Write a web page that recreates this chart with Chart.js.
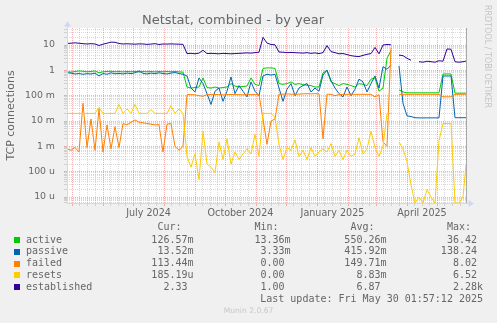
<!DOCTYPE html>
<html>
<head>
<meta charset="utf-8">
<script src="https://cdn.jsdelivr.net/npm/chart.js@4/dist/chart.umd.min.js"></script>
<style>
  html, body { margin: 0; padding: 0; background: #F0F0F0; }
  #wrap { width: 497px; height: 323px; }
</style>
</head>
<body>
<div id="wrap"><canvas id="c" width="497" height="323"></canvas></div>
<script>
// Sample days, counted from 2024-04-26 (left edge) to 2025-05-30 (right edge)
const days = [0,4,8,12,16,20,24,28,32,36,40,44,48,52,56,60,64,68,72,76,
  80,84,88,92,96,100,104,108,112,116,120,124,128,132,136,140,144,148,152,156,
  160,164,168,172,176,180,184,188,192,196,200,204,208,212,216,220,224,228,232,236,
  240,244,248,252,256,260,264,268,272,276,280,284,288,292,296,300,304,308,312,316,
  320,324,328,332,336,340,344,348,352,356,360,364,368,372,376,380,384,388,392,396,399];

const activeVals = [
  0.88,0.85,0.9,0.95,0.92,0.88,0.9,0.95,0.8,0.88,
  0.9,0.92,0.88,0.9,0.87,0.9,0.88,0.9,0.86,0.9,
  0.88,0.9,0.87,0.9,0.88,0.9,0.88,0.9,0.87,0.85,
  0.22,0.2,0.21,0.22,0.5,0.21,0.2,0.22,0.2,0.21,
  0.22,0.3,0.24,0.22,0.23,0.24,0.5,0.28,0.25,1.2,
  1.25,1.25,1.2,0.3,0.28,0.3,0.35,0.28,0.3,0.27,
  0.26,0.25,0.22,0.22,0.8,1.0,0.35,0.3,0.25,0.3,
  0.28,0.25,0.22,0.3,0.28,0.25,0.45,0.5,0.15,0.2,
  3,6,null,0.17,0.14,0.13,0.13,0.13,0.13,0.13,
  0.13,0.13,0.13,0.13,0.72,0.72,0.72,0.126,0.126,0.126,
  0.1266];

const passiveVals = [
  0.8,0.78,0.72,0.75,0.7,0.74,0.72,0.78,0.6,0.75,
  0.7,0.8,0.73,0.76,0.72,0.78,0.74,0.8,0.95,0.76,
  0.72,0.78,0.74,0.8,0.75,0.72,0.78,0.82,0.75,0.7,
  0.6,0.2,0.14,0.5,0.3,0.12,0.045,0.15,0.2,0.06,
  0.15,0.55,0.12,0.25,0.15,0.09,0.35,0.15,0.1,0.6,
  0.7,0.65,0.7,0.2,0.06,0.18,0.3,0.1,0.2,0.25,
  0.3,0.14,0.2,0.15,0.66,1.0,0.4,0.2,0.12,0.09,
  0.22,0.1,0.18,0.45,0.35,0.14,0.3,0.6,0.2,1.4,
  1.1,1.6,null,1.5,0.05,0.016,0.015,0.0135,0.0133,0.0133,
  0.0133,0.0133,0.0133,0.0133,0.6,0.6,0.6,0.0135,0.0135,0.0135,
  0.01352];

const failedVals = [
  0.0008,0.0007,0.0009,0.0006,0.05,0.0009,0.012,0.0007,0.03,0.0006,
  0.007,0.0008,0.006,0.0009,0.008,0.007,0.009,0.011,0.009,0.0085,
  0.008,0.0075,0.007,0.0072,0.0006,0.0075,0.008,0.001,0.0007,0.001,
  0.11,0.11,0.108,0.1,0.095,0.11,0.11,0.112,0.11,0.108,
  0.11,0.112,0.11,0.11,0.108,0.11,0.11,0.11,0.11,0.012,
  0.0012,0.01,0.012,0.115,0.115,0.118,0.115,0.113,0.115,0.118,
  0.12,0.118,0.12,0.12,0.002,0.115,0.113,0.1,0.11,0.113,
  0.113,0.115,0.113,0.113,0.113,0.113,0.113,0.09,0.11,0.0015,
  0.001,8,null,0.113,0.113,0.113,0.113,0.113,0.113,0.113,
  0.113,0.113,0.113,0.113,0.09,0.09,0.09,0.1134,0.1134,0.1134,
  0.1134];

const resetsVals = [
  0.02,0.02,0.02,0.02,0.02,0.02,0.02,0.02,0.035,0.02,
  0.02,0.02,0.02,0.045,0.02,0.03,0.02,0.045,0.02,0.02,
  0.02,0.028,0.02,0.02,0.02,0.02,0.04,0.02,0.03,0.02,
  0.0004,0.00015,0.0005,0.00005,0.004,0.0002,0.00015,0.00009,0.0015,0.0003,
  0.002,0.0002,0.0006,0.0003,0.0005,0.0008,0.0005,0.003,0.0004,0.02,
  0.02,0.02,0.014,0.0012,0.0003,0.0009,0.0007,0.0018,0.0004,0.0007,
  0.0003,0.0009,0.0004,0.0006,0.0008,0.0006,0.0013,0.0004,0.0007,0.0003,
  0.0007,0.0004,0.0005,0.0022,0.0005,0.0008,0.004,0.0009,0.0004,0.001,
  0.02,0.02,null,0.0015,0.0008,0.00025,0.00003,0,0.00001,0,
  0.00002,0.00001,0,0.0017,0.008,0.008,0.008,0,0,0.00001,
  0.000185];

const establishedVals = [
  11.5,11.8,12.2,11.8,11.3,11.0,11.3,11.0,9.6,10.8,
  11.8,13.0,12.8,11.5,11.0,11.2,11.0,10.8,11.1,11.0,
  10.6,10.9,11.3,10.5,11.0,10.9,11.1,10.9,10.8,10.6,
  4.6,4.7,4.5,4.8,6.2,4.6,4.7,4.6,4.5,4.7,
  4.6,4.5,4.6,4.7,4.8,4.9,4.8,5.0,5.2,20,
  12,10.5,10.2,5.3,5.2,5.0,5.1,5.0,4.9,4.8,
  5.0,4.7,4.9,4.6,5.0,9.5,5.5,5.0,4.5,4.6,
  4.2,3.8,3.6,3.5,3.9,4.3,4.6,8.0,4.5,10.0,
  10.5,10.2,null,4.0,3.8,3.0,2.5,null,2.2,2.1,
  2.3,2.2,2.1,2.4,2.3,7.0,6.8,2.2,2.1,2.2,
  2.33];

const seriesNames  = ['active', 'passive', 'failed', 'resets', 'established'];
const seriesValues = [activeVals, passiveVals, failedVals, resetsVals, establishedVals];
const seriesColors = ['#00CC00', '#0066B3', '#FF8000', '#FFCC00', '#330099'];

// Summary columns
const colHeads = ['Cur:', 'Min:', 'Avg:', 'Max:'];
const curVals  = ['126.57m', '13.52m', '113.44m', '185.19u', '2.33 '];
const minVals  = ['13.36m', '3.33m', '0.00 ', '0.00 ', '1.00 '];
const avgVals  = ['550.26m', '415.92m', '149.71m', '8.83m', '6.87 '];
const maxVals  = ['36.42 ', '138.24 ', '8.02 ', '6.52 ', '2.28k'];
const lastUpdate = 'Last update: Fri May 30 01:57:12 2025';

// Axis labels
const yTickLabels = ['10', '1', '100 m', '10 m', '1 m', '100 u', '10 u'];
const yTickExps   = [1, 0, -1, -2, -3, -4, -5];
const xLabelMonths = [[2024, 6], [2024, 9], [2025, 0], [2025, 3]];
const xLabelTexts  = ['July 2024', 'October 2024', 'January 2025', 'April 2025'];

const FONT = '#666666';
const MGRID = 'rgba(235, 100, 100, 0.5)';
const GRID = 'rgba(140, 140, 140, 0.32)';
const AXIS = '#CFD6F8';
const Y_MIN = 5.8e-6, Y_MAX = 47;
const X_MAX = 399;

const startUTC = Date.UTC(2024, 3, 26);
function dayOf(y, m) { return (Date.UTC(y, m, 1) - startUTC) / 86400000; }

// grid positions along time: month starts (major) and quarter-month marks (minor)
function buildXTicks() {
  const out = [];
  for (let y = 2024, m = 3; y < 2025 || (y === 2025 && m <= 4); ) {
    const s = dayOf(y, m), len = dayOf(y, m + 1) - s;
    const li = xLabelMonths.findIndex(p => p[0] === y && p[1] === m);
    if (s >= 0 && s <= X_MAX) out.push({ value: s, major: true });
    for (let q = 1; q <= 3; q++) {
      const v = s + len * q / 4;
      if (v >= 0 && v <= X_MAX) out.push({ value: v, major: false, lbl: (q === 2 && li >= 0) ? xLabelTexts[li] : '' });
    }
    m++; if (m > 11) { m = 0; y++; }
  }
  return out;
}

function buildYTicks() {
  const out = [];
  for (let e = -6; e <= 1; e++) {
    for (let k = 1; k <= 9; k++) {
      const v = k * Math.pow(10, e);
      if (v >= Y_MIN && v <= Y_MAX) {
        const li = yTickExps.indexOf(e);
        out.push({ value: v, major: k === 1, lbl: (k === 1 && li >= 0) ? yTickLabels[li] : '' });
      }
    }
  }
  return out;
}

const datasets = seriesNames.map((name, i) => ({
  label: name,
  data: days.map((d, j) => {
    const v = seriesValues[i][j];
    return { x: d, y: v === null ? null : (v === 0 ? Y_MIN : v) };
  }),
  borderColor: seriesColors[i],
  backgroundColor: seriesColors[i],
  borderWidth: 1,
  pointRadius: 0,
  tension: 0,
  fill: false,
  spanGaps: false,
  order: seriesNames.length - i
}));

const frame = {
  id: 'frame',
  beforeDraw(chart) {
    const { ctx, chartArea: a } = chart;
    ctx.save();
    ctx.fillStyle = '#F0F0F0';
    ctx.fillRect(0, 0, chart.width, chart.height);
    ctx.fillStyle = '#FFFFFF';
    ctx.fillRect(a.left, a.top, a.right - a.left, a.bottom - a.top);
    ctx.restore();
  },
  afterDatasetsDraw(chart) {
    const { ctx, chartArea: a } = chart;
    ctx.save();
    // right edge line
    ctx.strokeStyle = '#A8A8A8';
    ctx.lineWidth = 1;
    ctx.beginPath();
    ctx.moveTo(a.right + 0.5, a.top);
    ctx.lineTo(a.right + 0.5, a.bottom);
    ctx.stroke();
    // axes with arrows
    ctx.strokeStyle = AXIS;
    ctx.fillStyle = AXIS;
    ctx.beginPath();
    ctx.moveTo(a.left + 0.5, a.bottom + 0.5);
    ctx.lineTo(a.left + 0.5, a.top - 3);
    ctx.moveTo(a.left, a.bottom + 0.5);
    ctx.lineTo(a.right + 3, a.bottom + 0.5);
    ctx.stroke();
    ctx.beginPath();
    ctx.moveTo(a.left + 0.5, a.top - 7);
    ctx.lineTo(a.left - 3, a.top - 1.5);
    ctx.lineTo(a.left + 4, a.top - 1.5);
    ctx.closePath();
    ctx.fill();
    ctx.beginPath();
    ctx.moveTo(a.right + 8, a.bottom + 0.5);
    ctx.lineTo(a.right + 2.5, a.bottom - 3);
    ctx.lineTo(a.right + 2.5, a.bottom + 4);
    ctx.closePath();
    ctx.fill();
    ctx.restore();
  },
  afterDraw(chart) {
    const ctx = chart.ctx;
    ctx.save();
    // vertical credit
    ctx.fillStyle = '#C4C4C4';
    ctx.font = '8px "DejaVu Sans"';
    ctx.textBaseline = 'middle';
    ctx.textAlign = 'left';
    ctx.translate(487.5, 5);
    ctx.rotate(Math.PI / 2);
    ctx.fillText('RRDTOOL / TOBI OETIKER', 0, 0);
    ctx.restore();

    ctx.save();
    ctx.font = '10px "DejaVu Sans Mono"';
    ctx.textBaseline = 'middle';
    const colRight = [193.5, 290.5, 386.5, 483];
    const cols = [curVals, minVals, avgVals, maxVals];
    ctx.fillStyle = FONT;
    ctx.textAlign = 'right';
    colHeads.forEach((h, i) => ctx.fillText(h, colRight[i] - 12, 227.5));
    seriesNames.forEach((name, r) => {
      const y = 240 + r * 11.8;
      ctx.fillStyle = seriesColors[r];
      ctx.fillRect(14, Math.round(y) - 3, 6, 6);
      ctx.fillStyle = FONT;
      ctx.textAlign = 'left';
      ctx.fillText(name, 26, y);
      ctx.textAlign = 'right';
      cols.forEach((c, i) => ctx.fillText(c[r], colRight[i], y));
    });
    ctx.textAlign = 'right';
    ctx.fillText(lastUpdate, 483, 299.5);
    ctx.font = '7.6px "DejaVu Sans"';
    ctx.fillStyle = '#C8C8C8';
    ctx.textAlign = 'center';
    ctx.fillText('Munin 2.0.67', 248.5, 311.5);
    ctx.restore();
  }
};

new Chart(document.getElementById('c'), {
  type: 'line',
  data: { datasets },
  options: {
    responsive: false,
    devicePixelRatio: 1,
    animation: false,
    events: [],
    layout: { padding: { left: 0, right: 31, top: 0, bottom: 0 } },
    plugins: {
      legend: { display: false },
      tooltip: { enabled: false },
      title: {
        display: true,
        text: 'Netstat, combined - by year',
        color: FONT,
        font: { family: 'DejaVu Sans', size: 13, weight: 'normal', lineHeight: 1.2 },
        padding: { top: 12.4, bottom: 0 }
      }
    },
    scales: {
      x: {
        type: 'linear',
        min: 0,
        max: X_MAX,
        bounds: 'data',
        afterBuildTicks: s => { s.ticks = buildXTicks(); },
        afterFit: s => { s.height = 120; },
        grid: {
          color: c => (c.tick && c.tick.major) ? MGRID : GRID,
          tickColor: c => (c.tick && c.tick.major) ? MGRID : GRID,
          lineWidth: 1,
          tickLength: 3
        },
        border: { display: false, dash: [1, 1] },
        ticks: {
          autoSkip: false,
          maxRotation: 0,
          padding: 2,
          color: FONT,
          font: { family: 'DejaVu Sans', size: 9.6, lineHeight: 1.2 },
          callback: (v, i, ticks) => ticks[i].lbl || ''
        }
      },
      y: {
        type: 'logarithmic',
        min: Y_MIN,
        max: Y_MAX,
        bounds: 'data',
        afterBuildTicks: s => { s.ticks = buildYTicks(); },
        afterFit: s => { s.width = 67; },
        grid: {
          color: c => (c.tick && c.tick.major) ? MGRID : GRID,
          tickColor: c => (c.tick && c.tick.major) ? MGRID : GRID,
          lineWidth: 1,
          tickLength: 3
        },
        border: { display: false, dash: [1, 1] },
        title: {
          display: true,
          text: 'TCP connections',
          color: FONT,
          font: { family: 'DejaVu Sans', size: 11, lineHeight: 1.2 },
          padding: { top: 5, bottom: 0 }
        },
        ticks: {
          autoSkip: false,
          padding: 9,
          color: FONT,
          font: { family: 'DejaVu Sans', size: 9.4, lineHeight: 1.2 },
          callback: (v, i, ticks) => ticks[i].lbl || ''
        }
      }
    }
  },
  plugins: [frame]
});
</script>
</body>
</html>
